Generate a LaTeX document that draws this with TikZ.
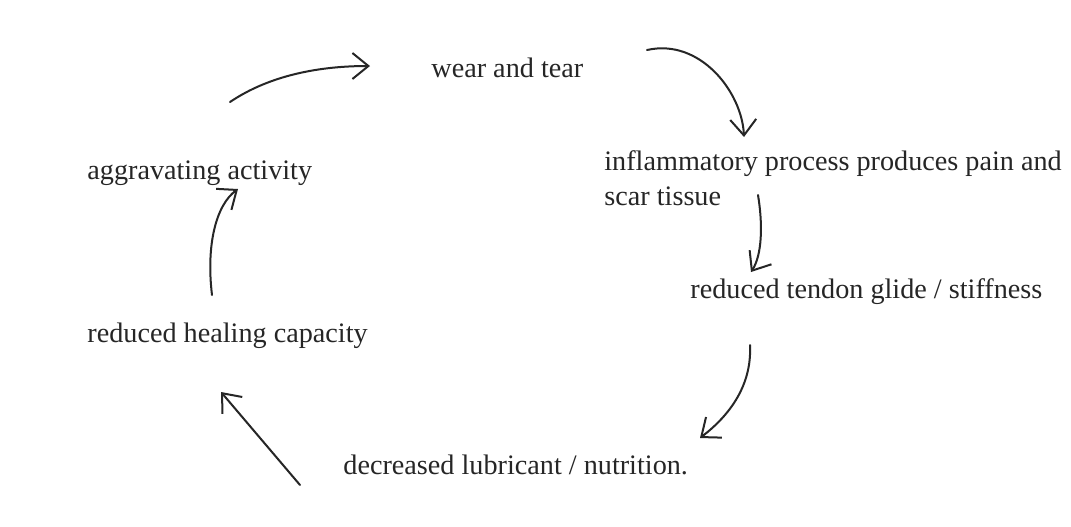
\documentclass[tikz,border=0pt]{standalone}
\usepackage{fontspec}
\setmainfont{Liberation Serif}
\usetikzlibrary{arrows.meta}
\begin{document}
\begin{tikzpicture}[x=0.5pt,y=-0.5pt,
  lbl/.style={anchor=base west,inner sep=0pt,text=black!85,font=\fontsize{14.1}{17.5}\selectfont},
  hand/.style={draw=black!85,line width=1pt,line cap=round,
    -{Straight Barb[length=8pt,width=13pt,line width=1pt]}}]
\useasboundingbox[fill=white] (0,0) rectangle (1071,526);
\node[lbl] (wear) at (431,77) {wear and tear};
\node[lbl] (aggr) at (87,179) {aggravating activity};
\node[lbl,align=left] (infl) at (604,205) {inflammatory process produces pain and\\scar tissue};
\node[lbl] (tend) at (690,298) {reduced tendon glide / stiffness};
\node[lbl] (heal) at (87,342) {reduced healing capacity};
\node[lbl] (decr) at (343,474) {decreased lubricant / nutrition.};
\coordinate (a1s) at (230,102); \coordinate (a1e) at (370,66);
\coordinate (a2s) at (647,50);  \coordinate (a2e) at (744,137);
\coordinate (a3s) at (758,195); \coordinate (a3e) at (751,272);
\coordinate (a4s) at (750,345); \coordinate (a4e) at (700,438);
\coordinate (a5s) at (300,485); \coordinate (a5e) at (221,392);
\coordinate (a6s) at (212,295); \coordinate (a6e) at (238,189);
\draw[hand] (a1s) .. controls (270,75) and (320,66) .. (a1e);
\draw[hand] (a2s) .. controls (700,38) and (742,92) .. (a2e);
\draw[hand] (a3s) .. controls (763,225) and (762,255) .. (a3e);
\draw[hand] (a4s) .. controls (752,385) and (730,415) .. (a4e);
\draw[hand] (a5s) -- (a5e);
\draw[hand] (a6s) .. controls (206,245) and (216,205) .. (a6e);
\end{tikzpicture}
\end{document}
